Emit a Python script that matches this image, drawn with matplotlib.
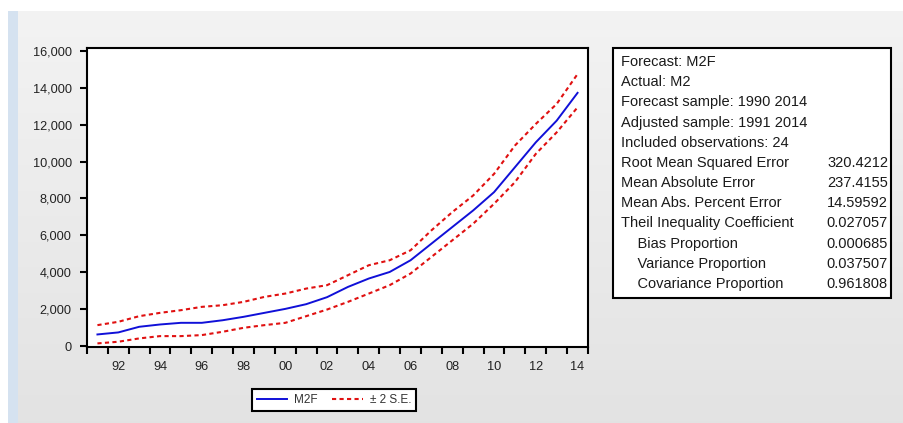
import numpy as np
import matplotlib
matplotlib.use("Agg")
import matplotlib.pyplot as plt
from matplotlib.patches import Rectangle
from matplotlib.ticker import FixedLocator, FuncFormatter

# forecast M2F with +/- 2 standard error band, 1991-2014
years = np.arange(1991, 2015)
m2f = [630, 740, 1045, 1170, 1260, 1260, 1400, 1585, 1800, 2015, 2270, 2650,
       3205, 3660, 4015, 4650, 5550, 6450, 7350, 8340, 9690, 11040, 12215, 13720]
upper = [1135, 1315, 1620, 1800, 1945, 2125, 2215, 2395, 2665, 2845, 3115, 3300,
         3840, 4380, 4650, 5190, 6270, 7260, 8160, 9330, 10865, 12035, 13120, 14740]
lower = [145, 235, 415, 540, 540, 595, 775, 990, 1135, 1260, 1620, 1980,
         2395, 2845, 3300, 3930, 4830, 5730, 6630, 7710, 8880, 10415, 11580, 12935]

stat_labels = ["Root Mean Squared Error", "Mean Absolute Error", "Mean Abs. Percent Error",
               "Theil Inequality Coefficient", "    Bias Proportion",
               "    Variance Proportion", "    Covariance Proportion"]
stat_values = ["320.4212", "237.4155", "14.59592", "0.027057", "0.000685",
               "0.037507", "0.961808"]
header = ["Forecast: M2F", "Actual: M2", "Forecast sample: 1990 2014",
          "Adjusted sample: 1991 2014", "Included observations: 24"]

W, H = 904, 423
fig = plt.figure(figsize=(W / 100, H / 100), dpi=100, facecolor="white")

# window background: blue strip on the left, grey gradient panel
bg = fig.add_axes([18 / W, 0, 1 - 18 / W, (H - 11) / H], zorder=-10)
grad = np.linspace(0.953, 0.89, 256).reshape(-1, 1)
bg.imshow(np.dstack([grad] * 3), aspect="auto", extent=[0, 1, 0, 1])
bg.axis("off")
fig.patches.append(Rectangle((8 / W, 0), 10 / W, (H - 11) / H,
                             transform=fig.transFigure, facecolor="#d5e2f0",
                             edgecolor="none", zorder=-9))

ax = fig.add_axes([87 / W, (H - 347) / H, (588 - 87) / W, (347 - 48) / H])
ax.set_facecolor("white")
ax.plot(years, m2f, color="#1010d8", lw=1.4, label="M2F")
ax.plot(years, upper, color="#e01010", lw=1.5, ls=(0, (2, 1.6)), label="± 2 S.E.")
ax.plot(years, lower, color="#e01010", lw=1.5, ls=(0, (2, 1.6)))

ax.set_xlim(1990.5, 2014.5)
ax.set_ylim(-50, 16150)
for s in ax.spines.values():
    s.set_linewidth(1.5)

tick_font = dict(family="Liberation Sans", size=9.2, color="#222222")
ax.yaxis.set_major_locator(FixedLocator(range(0, 16001, 2000)))
ax.yaxis.set_major_formatter(FuncFormatter(lambda v, p: f"{int(v):,}"))
ax.tick_params(axis="y", direction="out", length=5, width=1.5, pad=6)

# year boundaries carry the tick marks, labels sit in the middle of even years
ax.xaxis.set_major_locator(FixedLocator(np.arange(1990.5, 2015, 1)))
ax.xaxis.set_major_formatter(FuncFormatter(lambda v, p: ""))
ax.xaxis.set_minor_locator(FixedLocator(range(1992, 2015, 2)))
ax.xaxis.set_minor_formatter(FuncFormatter(lambda v, p: f"{int(v) % 100:02d}"))
ax.tick_params(axis="x", which="major", direction="out", length=5, width=1.5)
ax.tick_params(axis="x", which="minor", length=0, pad=10)
for lab in ax.get_yticklabels() + ax.get_xticklabels(minor=True):
    lab.set_fontfamily(tick_font["family"])
    lab.set_fontsize(tick_font["size"])
    lab.set_color(tick_font["color"])

leg = fig.legend(loc="center", bbox_to_anchor=(334 / W, 1 - 400 / H), ncol=2,
                 frameon=True, fancybox=False, edgecolor="black", framealpha=1,
                 prop=dict(family="Liberation Sans", size=8.5), handlelength=2.6,
                 columnspacing=1.2, handletextpad=0.6, borderpad=0.4)
leg.get_frame().set_linewidth(1.5)
for t in leg.get_texts():
    t.set_color("#333333")

# forecast evaluation table
fig.patches.append(Rectangle((613 / W, 1 - 298 / H), (891 - 613) / W, (298 - 48) / H,
                             transform=fig.transFigure, facecolor="white",
                             edgecolor="black", lw=1.5, zorder=1))
txt = dict(family="Liberation Sans", size=10.5, color="#1a1a1a", va="center")
rows = header + stat_labels
step = (284 - 62) / (len(rows) - 1)
for i, line in enumerate(rows):
    y = 1 - (62 + i * step) / H
    fig.text(621 / W, y, line, ha="left", **txt)
for i, val in enumerate(stat_values):
    y = 1 - (62 + (len(header) + i) * step) / H
    fig.text(888 / W, y, val, ha="right", **txt)

fig.savefig("out.png", dpi=100)
